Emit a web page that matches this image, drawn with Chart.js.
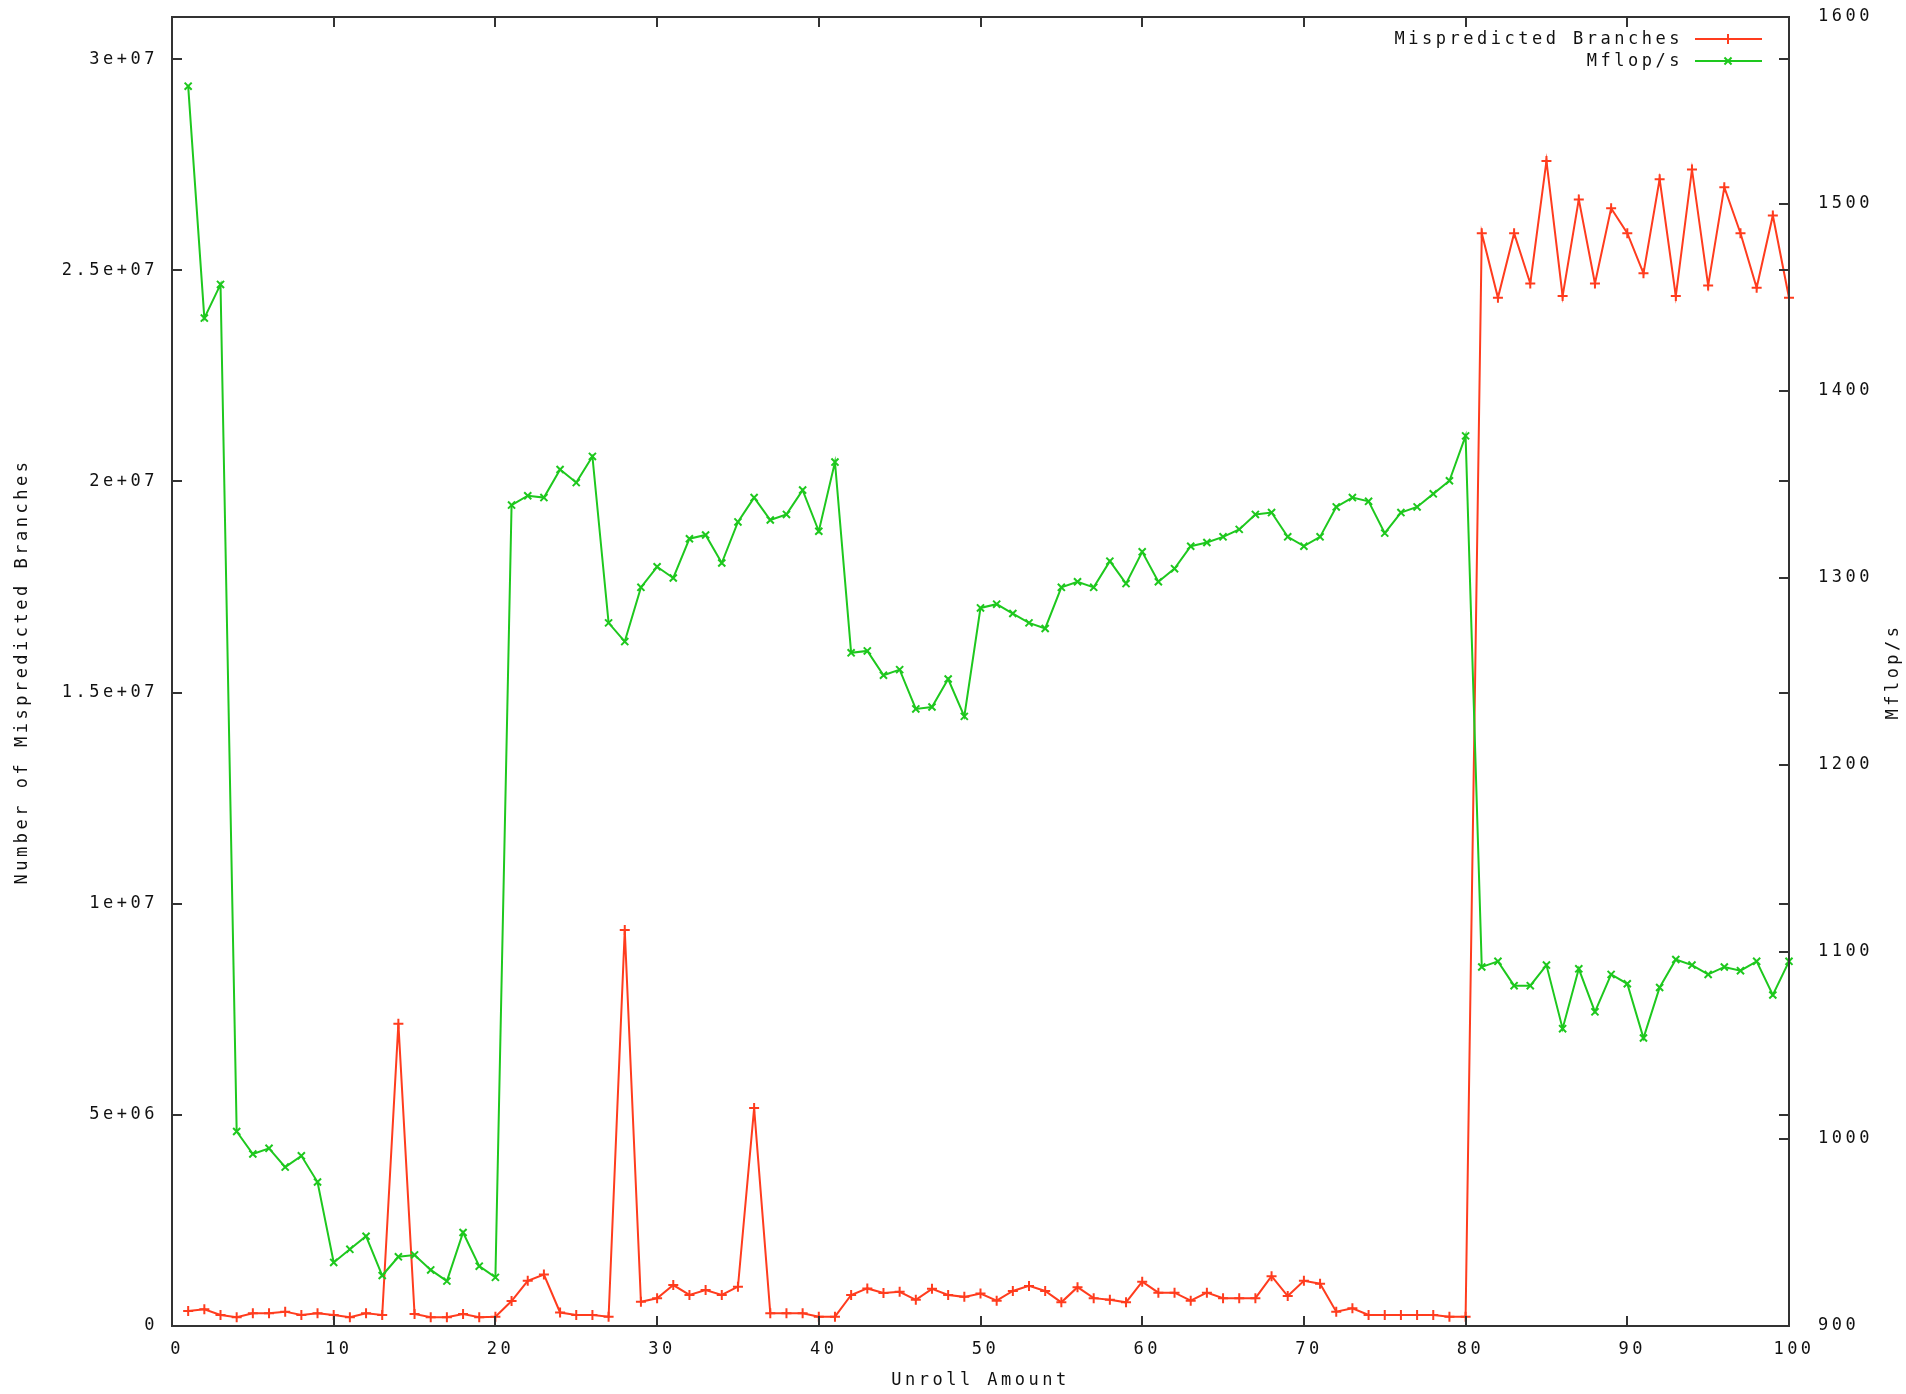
<!DOCTYPE html>
<html>
<head>
<meta charset="utf-8">
<title>Mispredicted Branches vs Mflop/s</title>
<script src="https://cdn.jsdelivr.net/npm/chart.js@4.4.1/dist/chart.umd.min.js"></script>
<style>
    html, body { margin: 0; padding: 0; background: #fff; }
    #plot { display: block; }
</style>
</head>
<body>
<canvas id="plot" width="1906" height="1394"></canvas>
<script>
/* ---------- data ---------- */
const unroll = [
    1, 2, 3, 4, 5, 6, 7, 8, 9, 10, 11, 12, 13, 14, 15, 16, 17, 18, 19, 20,
    21, 22, 23, 24, 25, 26, 27, 28, 29, 30, 31, 32, 33, 34, 35, 36, 37, 38, 39, 40,
    41, 42, 43, 44, 45, 46, 47, 48, 49, 50, 51, 52, 53, 54, 55, 56, 57, 58, 59, 60,
    61, 62, 63, 64, 65, 66, 67, 68, 69, 70, 71, 72, 73, 74, 75, 76, 77, 78, 79, 80,
    81, 82, 83, 84, 85, 86, 87, 88, 89, 90, 91, 92, 93, 94, 95, 96, 97, 98, 99, 100
];

const mispredicted = [
    355000, 396000, 260000, 206000, 300000, 300000, 340000, 260000, 300000, 260000,
    206000, 300000, 260000, 7160000, 284000, 206000, 206000, 284000, 206000, 220000,
    590000, 1070000, 1220000, 320000, 260000, 260000, 220000, 9380000, 576000, 656000,
    970000, 735000, 850000, 735000, 930000, 5160000, 300000, 300000, 300000, 220000,
    220000, 735000, 890000, 780000, 810000, 620000, 880000, 735000, 690000, 770000,
    600000, 830000, 950000, 830000, 560000, 920000, 660000, 620000, 560000, 1050000,
    790000, 790000, 600000, 790000, 660000, 660000, 660000, 1180000, 710000, 1070000,
    1000000, 340000, 420000, 260000, 260000, 260000, 260000, 260000, 220000, 220000,
    25880000, 24350000, 25880000, 24690000, 27590000, 24390000, 26680000, 24690000, 26470000, 25880000,
    24930000, 27160000, 24390000, 27390000, 24640000, 26970000, 25880000, 24590000, 26300000, 24350000
];

const mflops = [
    1563, 1439, 1457, 1004, 992, 995, 985, 991, 977, 934,
    941, 948, 927, 937, 938, 930, 924, 950, 932, 926,
    1339, 1344, 1343, 1358, 1351, 1365, 1276, 1266, 1295, 1306,
    1300, 1321, 1323, 1308, 1330, 1343, 1331, 1334, 1347, 1325,
    1362, 1260, 1261, 1248, 1251, 1230, 1231, 1246, 1226, 1284,
    1286, 1281, 1276, 1273, 1295, 1298, 1295, 1309, 1297, 1314,
    1298, 1305, 1317, 1319, 1322, 1326, 1334, 1335, 1322, 1317,
    1322, 1338, 1343, 1341, 1324, 1335, 1338, 1345, 1352, 1376,
    1092, 1095, 1082, 1082, 1093, 1059, 1091, 1068, 1088, 1083,
    1054, 1081, 1096, 1093, 1088, 1092, 1090, 1095, 1077, 1095
];

const xTickLabels = ["0", "10", "20", "30", "40", "50", "60", "70", "80", "90", "100"];
const leftTickValues = [0, 5000000, 10000000, 15000000, 20000000, 25000000, 30000000];
const leftTickLabels = ["0", "5e+06", "1e+07", "1.5e+07", "2e+07", "2.5e+07", "3e+07"];
const rightTickLabels = ["900", "1000", "1100", "1200", "1300", "1400", "1500", "1600"];

const seriesNames = ["Mispredicted Branches", "Mflop/s"];

/* ---------- style ---------- */
const RED = "#ff3c1e";
const GREEN = "#1ec81e";
const INK = "#111";
const FONT = "'DejaVu Sans Mono', 'Liberation Mono', monospace";
const SPACING = "3.5px";

Chart.defaults.font.family = FONT;
Chart.defaults.font.size = 17;
Chart.defaults.color = INK;

function pairs(xs, ys) {
    return xs.map((x, i) => ({ x: x, y: ys[i] }));
}

// no extra room for half-labels at the axis ends: the plot box is fixed
function noEdgePadding(s) {
    s.paddingTop = 0; s.paddingBottom = 0;
    s.paddingLeft = 0; s.paddingRight = 0;
}

/* gnuplot look: spaced mono text, inward ticks, framed box, legend inside */
const gnuplotLook = {
    id: "gnuplotLook",
    beforeUpdate(chart) { chart.ctx.letterSpacing = SPACING; },
    beforeDraw(chart) { chart.ctx.letterSpacing = SPACING; },
    afterDraw(chart) {
        const ctx = chart.ctx;
        const a = chart.chartArea;
        const sx = chart.scales.x, sy = chart.scales.y, sy2 = chart.scales.y2;
        const TL = 10;
        ctx.save();
        ctx.strokeStyle = "#333";
        ctx.lineWidth = 2;

        // ticks
        ctx.beginPath();
        sx.ticks.forEach(t => {
            const px = Math.round(sx.getPixelForValue(t.value));
            ctx.moveTo(px, a.bottom); ctx.lineTo(px, a.bottom - TL);
            ctx.moveTo(px, a.top); ctx.lineTo(px, a.top + TL);
        });
        sy.ticks.forEach(t => {
            const py = Math.round(sy.getPixelForValue(t.value));
            ctx.moveTo(a.left, py); ctx.lineTo(a.left + TL, py);
            ctx.moveTo(a.right, py); ctx.lineTo(a.right - TL, py);
        });
        sy2.ticks.forEach(t => {
            const py = Math.round(sy2.getPixelForValue(t.value));
            ctx.moveTo(a.right, py); ctx.lineTo(a.right - TL, py);
        });
        ctx.stroke();

        // frame
        ctx.strokeRect(a.left, a.top, a.right - a.left, a.bottom - a.top);

        // legend
        ctx.font = "17px " + FONT;
        ctx.letterSpacing = SPACING;
        ctx.fillStyle = INK;
        ctx.textAlign = "right";
        ctx.textBaseline = "middle";
        const rows = [a.top + 22, a.top + 44];
        chart.data.datasets.forEach((ds, i) => {
            const y = rows[i];
            ctx.fillText(ds.label, 1683, y + 1);
            ctx.strokeStyle = ds.borderColor;
            ctx.lineWidth = 2;
            ctx.beginPath();
            ctx.moveTo(1695, y); ctx.lineTo(1762, y);
            ctx.stroke();
            ctx.fillStyle = ds.borderColor;
            Chart.helpers.drawPoint(ctx, {
                pointStyle: ds.pointStyle, radius: ds.pointRadius,
                borderWidth: ds.pointBorderWidth, rotation: 0
            }, 1728, y);
            ctx.fillStyle = INK;
        });

        // right axis title, reading bottom to top
        ctx.save();
        ctx.translate(1894, (a.top + a.bottom) / 2);
        ctx.rotate(-Math.PI / 2);
        ctx.textAlign = "center";
        ctx.fillText("Mflop/s", 0, 0);
        ctx.restore();

        ctx.restore();
    }
};

new Chart(document.getElementById("plot"), {
    type: "line",
    data: {
        datasets: [
            {
                label: seriesNames[0],
                data: pairs(unroll, mispredicted),
                yAxisID: "y",
                borderColor: RED, backgroundColor: RED,
                borderWidth: 2, tension: 0,
                pointStyle: "cross", pointRadius: 5, pointBorderWidth: 2,
                pointBorderColor: RED,
                order: 1, clip: false
            },
            {
                label: seriesNames[1],
                data: pairs(unroll, mflops),
                yAxisID: "y2",
                borderColor: GREEN, backgroundColor: GREEN,
                borderWidth: 2, tension: 0,
                pointStyle: "crossRot", pointRadius: 5, pointBorderWidth: 2,
                pointBorderColor: GREEN,
                order: 0, clip: false
            }
        ]
    },
    options: {
        responsive: false,
        animation: false,
        devicePixelRatio: 1,
        layout: { padding: { top: 17, left: 0, right: 0, bottom: 0 } },
        plugins: { legend: { display: false }, tooltip: { enabled: false } },
        scales: {
            x: {
                type: "linear", position: "bottom", bounds: "data",
                min: 0, max: 100,
                grid: { display: false, drawTicks: false },
                border: { display: false },
                ticks: {
                    stepSize: 10, includeBounds: false, padding: 13, labelOffset: 5,
                    maxRotation: 0, autoSkip: false,
                    callback: (v, i) => xTickLabels[i]
                },
                title: { display: true, text: "Unroll Amount", padding: { top: 0, bottom: 3 } },
                afterFit: s => { s.height = 68; noEdgePadding(s); }
            },
            y: {
                type: "linear", position: "left", bounds: "data",
                min: 0, max: 31000000,
                grid: { display: false, drawTicks: false },
                border: { display: false },
                ticks: {
                    padding: 14, autoSkip: false,
                    callback: (v, i) => leftTickLabels[i]
                },
                afterBuildTicks: s => { s.ticks = leftTickValues.map(v => ({ value: v })); },
                title: { display: true, text: "Number of Mispredicted Branches", padding: { top: 12, bottom: 0 } },
                afterFit: s => { s.width = 172; noEdgePadding(s); }
            },
            y2: {
                type: "linear", position: "right", bounds: "data",
                min: 900, max: 1600,
                grid: { display: false, drawTicks: false },
                border: { display: false },
                ticks: {
                    stepSize: 100, includeBounds: false, padding: 29, autoSkip: false,
                    callback: (v, i) => rightTickLabels[i]
                },
                afterFit: s => { s.width = 117; noEdgePadding(s); }
            }
        }
    },
    plugins: [gnuplotLook]
});
</script>
</body>
</html>
